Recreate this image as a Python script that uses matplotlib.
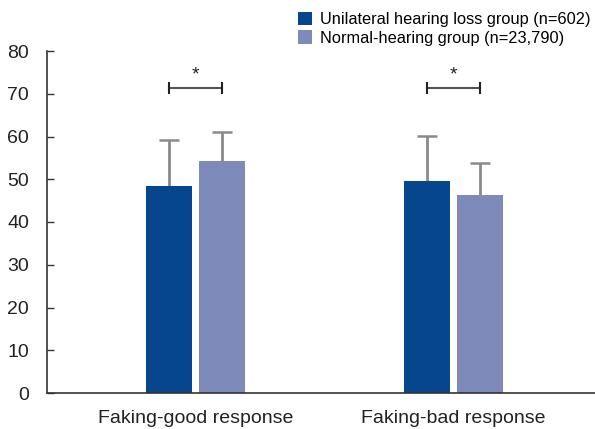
import matplotlib
matplotlib.use('Agg')
import matplotlib.pyplot as plt
import numpy as np

plt.rcParams['font.family'] = ['Liberation Sans', 'DejaVu Sans']

# 데이터
categories = ['Faking-good response', 'Faking-bad response']
groups = ['Unilateral hearing loss group (n=602)', 'Normal-hearing group (n=23,790)']
uhl_mean = [48.4, 49.6]
uhl_sd = [10.8, 10.5]
nh_mean = [54.3, 46.3]
nh_sd = [6.7, 7.5]
sig_y = [71.3, 71.3]
yticks = [0, 10, 20, 30, 40, 50, 60, 70, 80]

dark = '#05468f'
light = '#7e8aba'

fig = plt.figure(figsize=(5.95, 4.29), dpi=100)
ax = fig.add_axes([47 / 595, 1 - 393 / 429, 1 - 47 / 595, (393 - 51) / 429])

x = np.arange(len(categories))
w = 0.178
off = 0.103

ax.bar(x - off, uhl_mean, w, color=dark, label=groups[0], zorder=2)
ax.bar(x + off, nh_mean, w, color=light, label=groups[1], zorder=2)

# 위쪽 방향 에러바만
for xs, m, s in [(x - off, uhl_mean, uhl_sd), (x + off, nh_mean, nh_sd)]:
    eb = ax.errorbar(xs, m, yerr=[np.zeros(len(s)), s], fmt='none', ecolor='#8a8a8a',
                     elinewidth=2, capsize=7.5, capthick=1.8, zorder=1)
    eb[1][0].set_visible(False)
    eb[1][1].set_color('#222222')

# 유의성 표시
for i in range(len(categories)):
    ax.plot([x[i] - off, x[i] + off], [sig_y[i], sig_y[i]], color='#555555', lw=1.5)
    for xe in [x[i] - off, x[i] + off]:
        ax.plot([xe, xe], [sig_y[i] - 1.2, sig_y[i] + 1.2], color='#222222', lw=1.5)
    ax.text(x[i], sig_y[i] + 1.2, '*', ha='center', va='bottom', fontsize=14, color='#222222')

ax.set_xlim(-0.576, 1.548)
ax.set_ylim(0, 80)
ax.set_yticks(yticks)
ax.set_xticks(x)
ax.set_xticklabels(categories, fontsize=14, color='#222222')
ax.tick_params(axis='x', length=0, pad=12)
ax.tick_params(axis='y', direction='in', length=5, width=1, colors='#333333',
               labelsize=14, labelcolor='#222222', pad=13)
for sp in ['top', 'right']:
    ax.spines[sp].set_visible(False)
for sp in ['left', 'bottom']:
    ax.spines[sp].set_color('#333333')
    ax.spines[sp].set_linewidth(1.2)

fig.legend(loc='upper left', bbox_to_anchor=(291 / 595, 1 - 5 / 429), frameon=False,
           fontsize=11.8, handlelength=0.9, handleheight=0.9, handletextpad=0.45,
           labelspacing=0.2, borderaxespad=0)

fig.savefig('out.png', dpi=100)
